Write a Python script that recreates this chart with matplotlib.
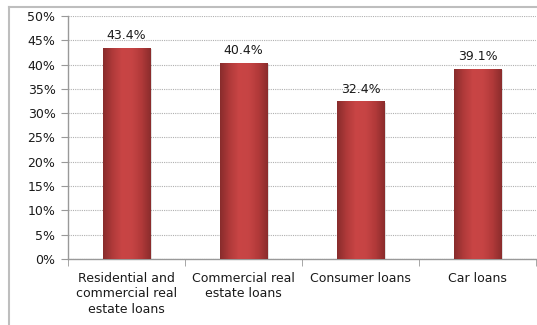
import numpy as np
import matplotlib
matplotlib.use("Agg")
import matplotlib.pyplot as plt
from matplotlib.lines import Line2D
from matplotlib.colors import LinearSegmentedColormap

categories = ["Residential and\ncommercial real\nestate loans",
              "Commercial real\nestate loans",
              "Consumer loans",
              "Car loans"]
values = [43.4, 40.4, 32.4, 39.1]
y_ticks = [0, 5, 10, 15, 20, 25, 30, 35, 40, 45, 50]

plt.rcParams["font.family"] = ["DejaVu Sans"]

fig = plt.figure(figsize=(5.37, 3.25), dpi=100)
ax = fig.add_axes([0.1266, 0.203, 0.872, 0.748])

x = np.arange(len(categories))
bar_w = 0.41
bars = ax.bar(x, values, width=bar_w, color="#C04040", zorder=3)

# cylinder-like horizontal shading on each bar
shade = LinearSegmentedColormap.from_list(
    "shade", ["#882C2C", "#B03A3A", "#C94545", "#C64444", "#B23A3A", "#8A2C2C"])
grad = np.linspace(0, 1, 256).reshape(1, -1)
for b in bars:
    x0, w, h = b.get_x(), b.get_width(), b.get_height()
    # soft shadow to the right
    ax.bar(x0 + w / 2 + 0.012, h, width=w, bottom=-0.3, color="#000000",
           alpha=0.12, zorder=2)
    im = ax.imshow(grad, extent=[x0, x0 + w, 0, h], aspect="auto",
                   cmap=shade, zorder=4)
    im.set_clip_path(b)
    ax.text(x0 + w / 2, h + 1.2, f"{h:.1f}%", ha="center", va="bottom",
            fontsize=9, color="#1a1a1a", zorder=5)

ax.set_xlim(-0.5, len(categories) - 0.5)
ax.set_ylim(0, 50)
ax.set_yticks(y_ticks)
ax.set_yticklabels([f"{t}%" for t in y_ticks], fontsize=9, color="#1a1a1a")
ax.set_xticks(x)
ax.set_xticklabels(categories, fontsize=9, color="#1a1a1a", linespacing=1.25)
ax.set_xticks(np.arange(-0.5, len(categories)), minor=True)
ax.tick_params(axis="x", which="major", length=0, pad=9)
ax.tick_params(axis="x", which="minor", length=5, color="#999999", direction="out")
ax.tick_params(axis="y", length=5, color="#999999", direction="out", pad=4)

ax.grid(axis="y", linestyle=(0, (1, 1)), color="#b0b0b0", linewidth=0.8, zorder=0)
ax.set_axisbelow(True)
for s in ["top", "right"]:
    ax.spines[s].set_visible(False)
for s in ["left", "bottom"]:
    ax.spines[s].set_color("#999999")
    ax.spines[s].set_linewidth(1.0)

# chart-area border
fig.add_artist(Line2D([0.0168, 0.0168], [0.0, 0.978], transform=fig.transFigure,
                      color="#BEBEBE", linewidth=1.5))
fig.add_artist(Line2D([0.0168, 1.0], [0.978, 0.978], transform=fig.transFigure,
                      color="#BEBEBE", linewidth=1.5))

fig.savefig("out.png", dpi=100)
